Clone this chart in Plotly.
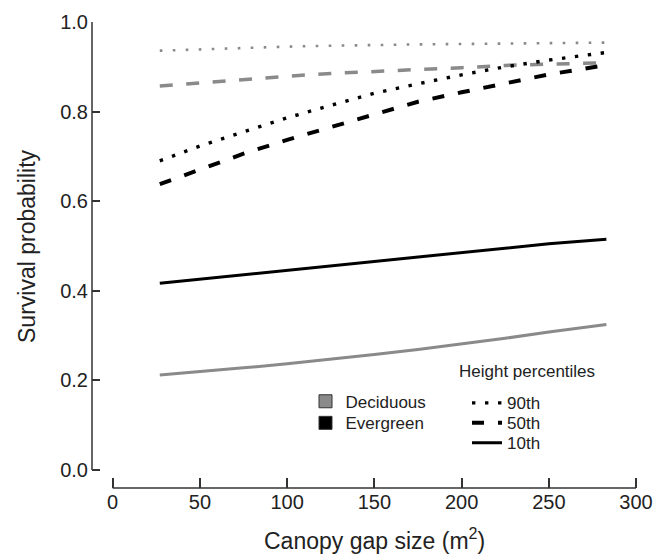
import plotly.graph_objects as go

# ---- data ----
gap_size = [27, 50, 75, 100, 125, 150, 175, 200, 225, 250, 283]

decid_90 = [0.936, 0.939, 0.942, 0.945, 0.947, 0.949, 0.950, 0.951, 0.952, 0.953, 0.954]
decid_50 = [0.857, 0.864, 0.872, 0.879, 0.885, 0.890, 0.894, 0.898, 0.903, 0.906, 0.909]
decid_10 = [0.212, 0.219, 0.228, 0.237, 0.247, 0.258, 0.269, 0.281, 0.294, 0.308, 0.325]
everg_90 = [0.690, 0.723, 0.755, 0.786, 0.814, 0.841, 0.862, 0.882, 0.900, 0.915, 0.932]
everg_50 = [0.638, 0.671, 0.706, 0.737, 0.766, 0.793, 0.822, 0.843, 0.862, 0.883, 0.904]
everg_10 = [0.417, 0.426, 0.436, 0.446, 0.456, 0.466, 0.476, 0.486, 0.495, 0.505, 0.515]

x_ticks = [0, 50, 100, 150, 200, 250, 300]
y_ticks = [0.0, 0.2, 0.4, 0.6, 0.8, 1.0]
y_tick_labels = ["0.0", "0.2", "0.4", "0.6", "0.8", "1.0"]

groups = ["Deciduous", "Evergreen"]
percentiles = ["90th", "50th", "10th"]

# ---- styles ----
GRAY = "#8a8a8a"
BLACK = "#000000"
AX = "#333333"
TXT = "#222222"
FONT = "Liberation Sans, Arial, Helvetica, sans-serif"

W, H = 665, 554
ML, MR, MT, MB = 92, 15, 22, 66
PW, PH = W - ML - MR, H - MT - MB


def px_x(p):
    return (p - ML) / PW


def px_y(p):
    return (H - MB - p) / PH


fig = go.Figure()

series = [
    (decid_90, GRAY, 2.6, "2.6px,10.4px"),
    (decid_50, GRAY, 3.5, "13px,13.5px"),
    (decid_10, GRAY, 3.0, "solid"),
    (everg_90, BLACK, 3.4, "3.4px,9.6px"),
    (everg_50, BLACK, 4.0, "12px,14px"),
    (everg_10, BLACK, 3.0, "solid"),
]
for ys, col, w, dash in series:
    fig.add_trace(go.Scatter(x=gap_size, y=ys, mode="lines",
                             line=dict(color=col, width=w, dash=dash),
                             showlegend=False, hoverinfo="skip"))

legend_style = dict(xanchor="left", yanchor="middle", bgcolor="rgba(0,0,0,0)",
                    font=dict(size=17, color=TXT, family=FONT),
                    itemclick=False, itemdoubleclick=False)

# species-group key (one legend per row for exact placement)
group_rows = [("legend", 401.7), ("legend2", 423.3)]
for name, col, (lg, ypx) in zip(groups, [GRAY, BLACK], group_rows):
    fig.add_trace(go.Scatter(x=[None], y=[None], mode="markers", name=name,
                             marker=dict(symbol="square", size=13, color=col,
                                         line=dict(color="#333333", width=1)),
                             legend=lg))
    fig.update_layout({lg: dict(x=px_x(305.5), y=px_y(ypx), **legend_style)})

# height-percentile key
pct_rows = [("legend3", 403.3), ("legend4", 423.3), ("legend5", 443.3)]
for name, w, dash, (lg, ypx) in zip(percentiles, [3.4, 4.0, 3.0],
                                    ["3.4px,9.6px", "12px,14px", "solid"], pct_rows):
    fig.add_trace(go.Scatter(x=[None], y=[None], mode="lines", name=name,
                             line=dict(color=BLACK, width=w, dash=dash),
                             legend=lg))
    fig.update_layout({lg: dict(x=px_x(467), y=px_y(ypx), **legend_style)})

# axis lines (R-style, detached)
fig.add_shape(type="line", xref="paper", yref="y", x0=0, x1=0, y0=0, y1=1,
              line=dict(color=AX, width=1.5))
fig.add_shape(type="line", xref="x", yref="paper", x0=0, x1=300, y0=0, y1=0,
              line=dict(color=AX, width=1.5))

fig.add_annotation(text="Canopy gap size (m<sup>2</sup>)", xref="x", yref="paper",
                   x=150, y=px_y(539), xanchor="center", yanchor="middle",
                   showarrow=False, font=dict(size=23, color=TXT, family=FONT))
fig.add_annotation(text="Survival probability", xref="paper", yref="y",
                   x=0, y=0.5, xshift=-65, textangle=-90,
                   xanchor="center", yanchor="middle",
                   showarrow=False, font=dict(size=23, color=TXT, family=FONT))
fig.add_annotation(text="Height percentiles", xref="paper", yref="paper",
                   x=px_x(457), y=px_y(371.5),
                   xanchor="left", yanchor="middle",
                   showarrow=False, font=dict(size=17, color=TXT, family=FONT))

fig.update_layout(
    width=W, height=H,
    margin=dict(l=ML, r=MR, t=MT, b=MB),
    paper_bgcolor="white", plot_bgcolor="white",
    font=dict(family=FONT, color=TXT),
    xaxis=dict(range=[-11.85, 308.0], showgrid=False, zeroline=False, showline=False,
               tickmode="array", tickvals=x_ticks, ticks="inside", ticklen=10,
               tickwidth=1.5, tickcolor=AX, tickfont=dict(size=20, color=TXT)),
    yaxis=dict(range=[-0.0402, 1.0], showgrid=False, zeroline=False, showline=False,
               tickmode="array", tickvals=y_ticks, ticktext=y_tick_labels,
               ticks="inside", ticklen=8, tickwidth=1.5, tickcolor=AX,
               ticklabelstandoff=3, tickfont=dict(size=20, color=TXT)),
    showlegend=True,
)

fig.write_html("out.html",
               config={"displayModeBar": False},
               post_script="document.body.style.margin='0';"
                           "document.body.style.overflow='hidden';"
                           "document.documentElement.style.overflow='hidden';")
